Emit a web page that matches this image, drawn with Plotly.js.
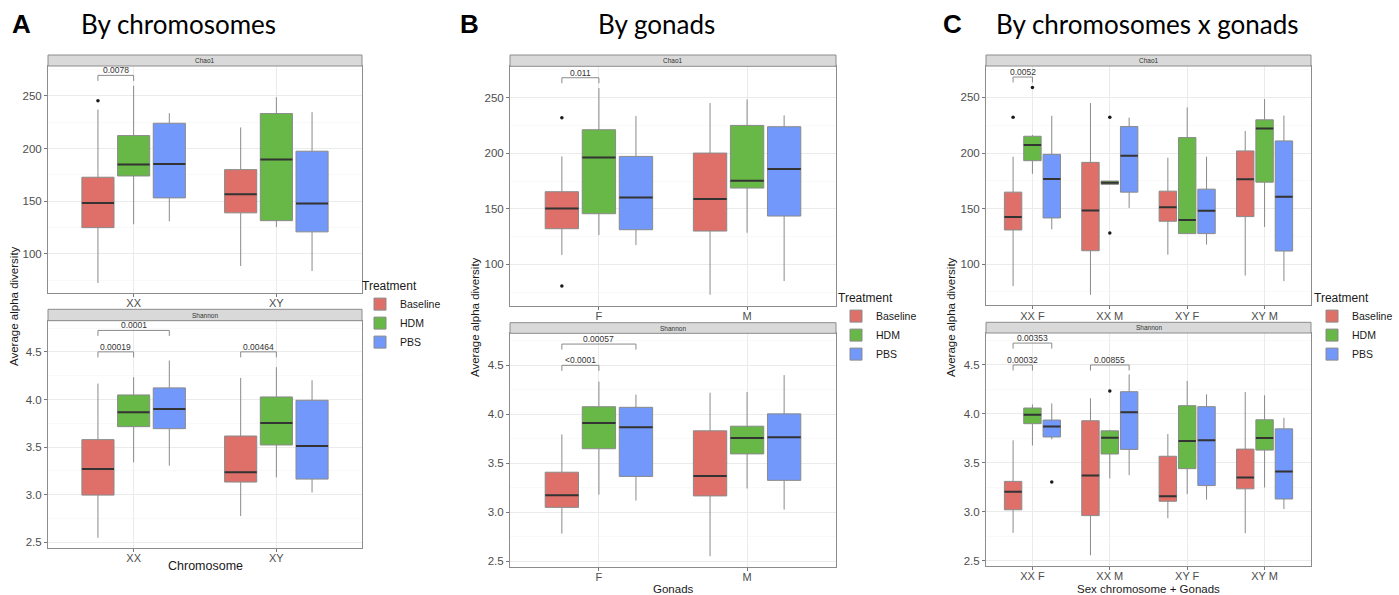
<!DOCTYPE html>
<html><head><meta charset="utf-8">
<script src="https://cdn.plot.ly/plotly-3.0.1.min.js"></script>
<style>html,body{margin:0;padding:0;background:#fff}#chart{width:1399px;height:595px}</style>
</head><body><div id="chart"></div>
<script>
// ---------------- data ----------------
const treatments = ['Baseline', 'HDM', 'PBS'];
const treatmentColors = ['#DE7069', '#67B846', '#7198FA'];

const catsA = ['XX', 'XY'];
const catsB = ['F', 'M'];
const catsC = ['XX F', 'XX M', 'XY F', 'XY M'];

// each stat array: [treatment][category]
// Panel A - Chao1
const A_chao1_lf  = [[72.5, 88.6], [128.2, 125.6], [131, 83.9]];
const A_chao1_q1  = [[125, 139], [174, 131.6], [153.2, 121]];
const A_chao1_med = [[148.4, 156.6], [184.8, 189.6], [185.4, 147.8]];
const A_chao1_q3  = [[172.8, 180], [212.3, 233.2], [224, 197.5]];
const A_chao1_uf  = [[237, 220], [259.5, 248.7], [233.5, 234.5]];
const A_chao1_out = [[[245.3], []], [[], []], [[], []]];
// Panel A - Shannon
const A_shan_lf  = [[2.549, 2.777], [3.341, 3.183], [3.306, 3.025]];
const A_shan_q1  = [[2.997, 3.134], [3.715, 3.523], [3.694, 3.165]];
const A_shan_med = [[3.271, 3.236], [3.866, 3.754], [3.901, 3.512]];
const A_shan_q3  = [[3.579, 3.617], [4.048, 4.027], [4.122, 3.992]];
const A_shan_uf  = [[4.167, 4.227], [4.234, 4.339], [4.409, 4.202]];
const A_shan_out = [[[], []], [[], []], [[], []]];

// Panel B - Chao1
const B_chao1_lf  = [[108.4, 72.7], [126.4, 128.5], [117.4, 85]];
const B_chao1_q1  = [[132.1, 130], [145.6, 168.7], [131.2, 143.5]];
const B_chao1_med = [[150.4, 158.8], [196.3, 175.3], [160.3, 185.8]];
const B_chao1_q3  = [[165.4, 200.2], [221.2, 225.1], [197.2, 223.9]];
const B_chao1_uf  = [[197.2, 245.2], [258.7, 248.5], [233.5, 234.1]];
const B_chao1_out = [[[232, 80.5], []], [[], []], [[], []]];
// Panel B - Shannon
const B_shan_lf  = [[2.78, 2.55], [3.179, 3.242], [3.119, 3.026]];
const B_shan_q1  = [[3.049, 3.166], [3.648, 3.595], [3.365, 3.325]];
const B_shan_med = [[3.172, 3.369], [3.911, 3.758], [3.868, 3.765]];
const B_shan_q3  = [[3.408, 3.831], [4.077, 3.878], [4.071, 4.004]];
const B_shan_uf  = [[3.794, 4.22], [4.334, 4.227], [4.2, 4.4]];
const B_shan_out = [[[], []], [[], []], [[], []]];

// Panel C - Chao1
const C_chao1_lf  = [[80.2, 72.4, 108.5, 89.8], [181.3, 171.8, 127.5, 133.5], [131.4, 150.6, 117.6, 84.7]];
const C_chao1_q1  = [[130.8, 112.1, 138.6, 142.8], [193.1, 171.8, 127.5, 173.8], [141.6, 164.8, 127.5, 111.8]];
const C_chao1_med = [[142.5, 148.3, 151.3, 176.3], [207.3, 173.2, 139.8, 222], [176.6, 197.6, 148, 160.6]];
const C_chao1_q3  = [[164.8, 191.6, 165.7, 201.9], [215.1, 174.8, 213.9, 229.9], [198.8, 223.8, 167.5, 210.9]];
const C_chao1_uf  = [[196.7, 244.9, 195.8, 219.9], [216.3, 174.8, 241, 248.5], [233.5, 231.9, 196.7, 233.7]];
const C_chao1_out = [[[232.3], [], [], []], [[259], [232.3, 128], [], []], [[], [], [], []]];
// Panel C - Shannon
const C_shan_lf  = [[2.784, 2.554, 2.934, 2.78], [3.677, 3.34, 3.18, 3.247], [3.74, 3.374, 3.124, 3.027]];
const C_shan_q1  = [[3.02, 2.96, 3.107, 3.234], [3.9, 3.59, 3.44, 3.63], [3.764, 3.637, 3.267, 3.13]];
const C_shan_med = [[3.204, 3.37, 3.157, 3.35], [3.99, 3.757, 3.724, 3.754], [3.87, 4.017, 3.73, 3.41]];
const C_shan_q3  = [[3.31, 3.93, 3.567, 3.64], [4.06, 3.827, 4.084, 3.94], [3.937, 4.227, 4.074, 3.847]];
const C_shan_uf  = [[3.73, 4.16, 3.794, 4.224], [4.097, 3.837, 4.337, 4.19], [4.107, 4.404, 4.2, 3.96]];
const C_shan_out = [[[], [], [], []], [[], [4.234], [], []], [[3.304], [], [], []]];

// significance brackets: category index, from-treatment, to-treatment, y level, label
const A_chao1_cmp = {cat: [0], from: [0], to: [1], y: [269.4], label: ['0.0078']};
const A_shan_cmp  = {cat: [0, 0, 1], from: [0, 0, 0], to: [2, 1, 1], y: [4.725, 4.5, 4.5], label: ['0.0001', '0.00019', '0.00464']};
const B_chao1_cmp = {cat: [0], from: [0], to: [1], y: [268], label: ['0.011']};
const B_shan_cmp  = {cat: [0, 0], from: [0, 0], to: [2, 1], y: [4.717, 4.5], label: ['0.00057', '<0.0001']};
const C_chao1_cmp = {cat: [0], from: [0], to: [1], y: [268.4], label: ['0.0052']};
const C_shan_cmp  = {cat: [0, 0, 1], from: [0, 0, 0], to: [2, 1, 2], y: [4.724, 4.5, 4.5], label: ['0.00353', '0.00032', '0.00855']};

// ---------------- layout helpers ----------------
const W = 1399, H = 595;
const FONT = 'Liberation Sans, Arial, Helvetica, sans-serif';
const boxgap = 0.25, boxgroupgap = 0.1;
const chaoRange = [63, 278.3];
const shanRange = [2.445, 4.827];

function groupCenter(ci, k) { return ci + (-0.5 + (k + 0.5) / treatments.length) * (1 - boxgap); }

const panels = [
  {cats: catsA, legendId: 'legend', legendPos: [360, 274], xpx: [48, 362],
   ytitle: [14, 306], xtitle: ['Chromosome', 566, 12.5], label: ['A', 21], title: ['By chromosomes', 178],
   facets: [
     {name: 'Chao1', s: [A_chao1_lf, A_chao1_q1, A_chao1_med, A_chao1_q3, A_chao1_uf, A_chao1_out], cmp: A_chao1_cmp, ypx: [66, 293], strip: 55, range: chaoRange, dtick: 50, fmt: ''},
     {name: 'Shannon', s: [A_shan_lf, A_shan_q1, A_shan_med, A_shan_q3, A_shan_uf, A_shan_out], cmp: A_shan_cmp, ypx: [320.7, 547.7], strip: 309.3, range: shanRange, dtick: 0.5, fmt: '.1f'}]},
  {cats: catsB, legendId: 'legend2', legendPos: [836, 286], xpx: [510, 836],
   ytitle: [475, 317], xtitle: ['Gonads', 588.5, 11.5], label: ['B', 470], title: ['By gonads', 656],
   facets: [
     {name: 'Chao1', s: [B_chao1_lf, B_chao1_q1, B_chao1_med, B_chao1_q3, B_chao1_uf, B_chao1_out], cmp: B_chao1_cmp, ypx: [66.3, 305.5], strip: 55, range: chaoRange, dtick: 50, fmt: ''},
     {name: 'Shannon', s: [B_shan_lf, B_shan_q1, B_shan_med, B_shan_q3, B_shan_uf, B_shan_out], cmp: B_shan_cmp, ypx: [333.3, 566.5], strip: 322.7, range: shanRange, dtick: 0.5, fmt: '.1f'}]},
  {cats: catsC, legendId: 'legend3', legendPos: [1312, 286], xpx: [986, 1311],
   ytitle: [951, 317], xtitle: ['Sex chromosome + Gonads', 588.5, 11.5], label: ['C', 952], title: ['By chromosomes x gonads', 1147],
   facets: [
     {name: 'Chao1', s: [C_chao1_lf, C_chao1_q1, C_chao1_med, C_chao1_q3, C_chao1_uf, C_chao1_out], cmp: C_chao1_cmp, ypx: [66, 305.3], strip: 55, range: chaoRange, dtick: 50, fmt: ''},
     {name: 'Shannon', s: [C_shan_lf, C_shan_q1, C_shan_med, C_shan_q3, C_shan_uf, C_shan_out], cmp: C_shan_cmp, ypx: [333, 566], strip: 322.3, range: shanRange, dtick: 0.5, fmt: '.1f'}]}
];

const traces = [];
const layout = {
  width: W, height: H, margin: {l: 0, r: 0, t: 0, b: 0},
  paper_bgcolor: '#ffffff', plot_bgcolor: '#ffffff',
  font: {family: FONT, color: '#1a1a1a'},
  boxmode: 'group', boxgap: boxgap, boxgroupgap: boxgroupgap,
  shapes: [], annotations: [], hovermode: false
};

panels.forEach((p, pi) => {
  const n = p.cats.length;
  // legend
  layout[p.legendId] = {
    x: p.legendPos[0] / W, y: 1 - p.legendPos[1] / H, xanchor: 'left', yanchor: 'top',
    title: {text: 'Treatment', font: {size: 12, color: '#1a1a1a'}},
    font: {size: 10.5, color: '#1a1a1a'}, bgcolor: 'rgba(0,0,0,0)', tracegroupgap: 0,
    itemclick: false, itemdoubleclick: false
  };
  // panel label + title
  layout.annotations.push({xref: 'paper', yref: 'paper', x: p.label[1] / W, y: 1 - 24 / H, text: '<b>' + p.label[0] + '</b>',
    showarrow: false, xanchor: 'center', yanchor: 'middle', font: {family: FONT, size: 26, color: '#000'}});
  layout.annotations.push({xref: 'paper', yref: 'paper', x: p.title[1] / W, y: 1 - 24 / H, text: p.title[0],
    showarrow: false, xanchor: 'center', yanchor: 'middle', font: {family: 'Lato, sans-serif', size: 26, color: '#000'}});
  // axis titles
  layout.annotations.push({xref: 'paper', yref: 'paper', x: p.ytitle[0] / W, y: 1 - p.ytitle[1] / H, text: 'Average alpha diversity',
    showarrow: false, textangle: -90, xanchor: 'center', yanchor: 'middle', font: {size: 11.5, color: '#1a1a1a'}});
  layout.annotations.push({xref: 'paper', yref: 'paper', x: (p.xpx[0] + p.xpx[1]) / 2 / W, y: 1 - p.xtitle[1] / H, text: p.xtitle[0],
    showarrow: false, xanchor: 'center', yanchor: 'middle', borderpad: 0, font: {size: p.xtitle[2], color: '#1a1a1a'}});

  p.facets.forEach((f, fi) => {
    const idx = pi * 2 + fi + 1;
    const xa = 'xaxis' + idx, ya = 'yaxis' + idx;
    const [lf, q1, med, q3, uf, out] = f.s;
    layout[xa] = {
      domain: [p.xpx[0] / W, p.xpx[1] / W], anchor: 'y' + idx, type: 'category',
      categoryorder: 'array', categoryarray: p.cats, range: [-0.6, n - 0.4],
      showgrid: true, gridcolor: '#ebebeb', gridwidth: 1, zeroline: false,
      showline: true, mirror: true, linecolor: '#8c8c8c', linewidth: 1,
      ticks: 'outside', ticklen: 3, tickcolor: '#777', tickfont: {size: 11, color: '#4d4d4d'},
      ticklabelstandoff: -3, fixedrange: true
    };
    layout[ya] = {
      domain: [1 - f.ypx[1] / H, 1 - f.ypx[0] / H], anchor: 'x' + idx, range: f.range,
      tick0: 0, dtick: f.dtick, tickformat: f.fmt,
      showgrid: true, gridcolor: '#ebebeb', gridwidth: 1, zeroline: false,
      minor: {tick0: 0, dtick: f.dtick / 2, showgrid: true, gridcolor: '#f5f5f5', gridwidth: 0.6, ticks: ''},
      showline: true, mirror: true, linecolor: '#8c8c8c', linewidth: 1,
      ticks: 'outside', ticklen: 3, tickcolor: '#777', tickfont: {size: 11.5, color: '#4d4d4d'}, fixedrange: true
    };
    // strip
    layout.shapes.push({type: 'rect', xref: 'paper', yref: 'paper', x0: p.xpx[0] / W, x1: p.xpx[1] / W,
      y0: 1 - f.ypx[0] / H, y1: 1 - f.strip / H, fillcolor: '#d9d9d9', line: {color: '#8c8c8c', width: 1}, layer: 'above'});
    layout.annotations.push({xref: 'paper', yref: 'paper', x: (p.xpx[0] + p.xpx[1]) / 2 / W, y: 1 - (f.ypx[0] + f.strip) / 2 / H,
      text: f.name, showarrow: false, xanchor: 'center', yanchor: 'middle', font: {size: 6.5, color: '#333'}});

    // boxes
    treatments.forEach((t, k) => {
      traces.push({
        type: 'box', name: t, legend: p.legendId, legendgroup: t + pi, showlegend: fi === 0,
        xaxis: 'x' + idx, yaxis: 'y' + idx, x: p.cats,
        q1: q1[k], median: med[k], q3: q3[k], lowerfence: lf[k], upperfence: uf[k],
        y: p.cats.map((c, i) => [lf[k][i], uf[k][i]].concat(out[k][i])),
        boxpoints: 'outliers', jitter: 0, pointpos: 0,
        marker: {color: '#1a1a1a', size: 3.5, line: {width: 0}},
        fillcolor: treatmentColors[k], line: {color: '#8a8a8a', width: 1}, whiskerwidth: 0,
        offsetgroup: t, alignmentgroup: 'g' + idx, hoverinfo: 'skip'
      });
    });
    treatments.forEach((t, k) => {
      traces.push({
        type: 'box', name: t + ' median', legend: p.legendId, showlegend: false,
        xaxis: 'x' + idx, yaxis: 'y' + idx, x: p.cats,
        q1: med[k], median: med[k], q3: med[k], lowerfence: med[k], upperfence: med[k],
        boxpoints: false, fillcolor: 'rgba(0,0,0,0)', line: {color: '#333333', width: 2}, whiskerwidth: 0,
        offsetgroup: t, alignmentgroup: 'g' + idx, hoverinfo: 'skip'
      });
    });

    // significance brackets
    const span = f.range[1] - f.range[0];
    const tick = span / (f.ypx[1] - f.ypx[0]) * 5.5;
    f.cmp.cat.forEach((ci, j) => {
      const x0 = groupCenter(ci, f.cmp.from[j]), x1 = groupCenter(ci, f.cmp.to[j]);
      const y = f.cmp.y[j];
      const ln = {color: '#8a8a8a', width: 1};
      const base = {type: 'line', xref: 'x' + idx, yref: 'y' + idx, line: ln};
      layout.shapes.push(Object.assign({}, base, {x0: x0, x1: x0, y0: y - tick, y1: y}));
      layout.shapes.push(Object.assign({}, base, {x0: x0, x1: x1, y0: y, y1: y}));
      layout.shapes.push(Object.assign({}, base, {x0: x1, x1: x1, y0: y - tick, y1: y}));
      layout.annotations.push({xref: 'x' + idx, yref: 'y' + idx, x: (x0 + x1) / 2, y: y, yanchor: 'bottom', yshift: -2,
        text: f.cmp.label[j], showarrow: false, font: {size: 8.5, color: '#333'}});
    });
  });
});

Plotly.newPlot('chart', traces, layout, {displayModeBar: false, staticPlot: true});
</script>
</body></html>
